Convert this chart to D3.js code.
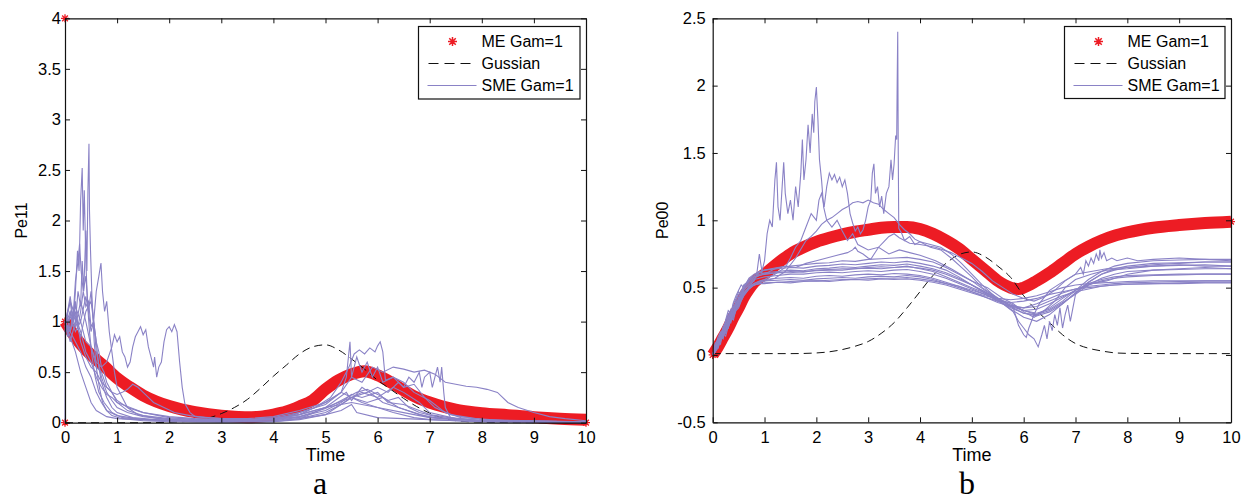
<!DOCTYPE html>
<html><head><meta charset="utf-8">
<script src="https://cdn.jsdelivr.net/npm/d3@7"></script>
<style>
html,body{margin:0;padding:0;background:#fff;}
svg{display:block;}
</style></head><body>
<svg id="chart" width="1242" height="502"></svg>
<script>
// ---------------- DATA ----------------
const xTicks = [0,1,2,3,4,5,6,7,8,9,10];
const yTicksA = [0,0.5,1,1.5,2,2.5,3,3.5,4];
const yTicksB = [-0.5,0,0.5,1,1.5,2,2.5];
const legendLabels = ["ME Gam=1","Gussian","SME Gam=1"];

// Panel a : ME (red band), Gaussian (dashed)
const meA = [[0,1.0],[0.25,0.81],[0.5,0.67],[0.75,0.56],[1.0,0.44],[1.25,0.35],[1.5,0.27],[1.75,0.21],[2.0,0.165],[2.25,0.13],[2.5,0.105],[2.75,0.085],[3.0,0.07],[3.25,0.06],[3.5,0.055],[3.75,0.06],[4.0,0.08],[4.25,0.11],[4.5,0.16],[4.75,0.22],[5.0,0.33],[5.25,0.42],[5.5,0.48],[5.75,0.51],[6.0,0.47],[6.25,0.4],[6.5,0.32],[6.75,0.25],[7.0,0.2],[7.25,0.16],[7.5,0.13],[7.75,0.11],[8.0,0.095],[8.5,0.075],[9.0,0.055],[9.5,0.04],[10,0.03]];
const meExtraA = [[0,4],[0,0],[0,1.0],[10,0]];
const gaussA = [[0,0],[1.5,0],[2.25,0.01],[2.5,0.02],[2.75,0.045],[3,0.09],[3.25,0.15],[3.5,0.23],[3.75,0.34],[4,0.46],[4.25,0.57],[4.5,0.68],[4.75,0.75],[5,0.77],[5.25,0.72],[5.5,0.63],[5.75,0.53],[6,0.42],[6.25,0.33],[6.5,0.24],[6.75,0.16],[7,0.095],[7.25,0.045],[7.5,0.02],[8,0.005],[9,0],[10,0]];

// Panel a : SME sample paths [time, value]
const smeA = [
 [[0,0],[0.005,0.95],[0.05,1.05],[0.1,0.9],[0.15,1.1],[0.2,1.0],[0.25,1.3],[0.3,1.15],[0.33,1.6],[0.36,1.3],[0.4,1.9],[0.42,1.5],[0.44,2.3],[0.46,2.76],[0.47,2.1],[0.49,1.7],[0.52,1.2],[0.56,0.8],[0.6,0.55],[0.66,0.35],[0.72,0.2],[0.8,0.12],[0.9,0.07],[1.1,0.04],[1.5,0.02],[2,0.01],[3,0.005],[4,0.01],[4.5,0.04],[5,0.1],[5.3,0.18],[5.5,0.25],[5.7,0.2],[6,0.15],[6.3,0.1],[6.7,0.05],[7,0.03],[8,0.01],[10,0]],
 [[0,1.0],[0.05,0.85],[0.1,1.1],[0.15,0.95],[0.2,1.3],[0.24,1.7],[0.27,1.5],[0.3,2.2],[0.33,2.52],[0.35,1.9],[0.37,2.3],[0.4,1.6],[0.43,1.2],[0.47,0.9],[0.52,0.65],[0.58,0.45],[0.65,0.3],[0.75,0.2],[0.9,0.1],[1.1,0.05],[1.5,0.03],[2.5,0.01],[4,0.02],[4.6,0.06],[5,0.15],[5.4,0.3],[5.5,0.22],[5.7,0.35],[5.9,0.28],[6.1,0.2],[6.4,0.15],[6.8,0.08],[7.2,0.04],[8,0.02],[10,0.01]],
 [[0,0.9],[0.05,1.1],[0.1,1.2],[0.15,1.0],[0.2,1.4],[0.25,1.6],[0.28,1.77],[0.31,1.5],[0.35,1.3],[0.4,1.45],[0.45,1.1],[0.5,0.9],[0.55,1.0],[0.6,0.7],[0.7,0.45],[0.8,0.3],[0.9,0.22],[1.0,0.15],[1.2,0.1],[1.5,0.06],[2,0.03],[3,0.02],[4,0.03],[4.5,0.08],[5,0.2],[5.3,0.3],[5.4,0.45],[5.47,0.8],[5.5,0.45],[5.6,0.65],[5.7,0.5],[5.8,0.6],[5.9,0.45],[6.0,0.55],[6.1,0.4],[6.3,0.45],[6.5,0.35],[6.7,0.38],[6.9,0.25],[7.1,0.15],[7.4,0.08],[8,0.03],[10,0.01]],
 [[0,1.0],[0.1,0.8],[0.2,1.0],[0.3,0.85],[0.4,1.1],[0.5,1.2],[0.55,1.0],[0.6,1.3],[0.65,1.45],[0.69,1.58],[0.72,1.3],[0.76,1.1],[0.8,1.2],[0.85,0.9],[0.9,0.7],[0.95,0.5],[1.0,0.35],[1.1,0.25],[1.2,0.15],[1.4,0.08],[1.8,0.04],[2.5,0.02],[3.5,0.02],[4.2,0.05],[4.8,0.15],[5.1,0.25],[5.3,0.4],[5.45,0.55],[5.55,0.68],[5.65,0.72],[5.75,0.68],[5.85,0.74],[5.95,0.7],[6.0,0.76],[6.05,0.8],[6.1,0.7],[6.15,0.42],[6.3,0.45],[6.5,0.4],[6.7,0.3],[7,0.22],[7.3,0.1],[7.6,0.05],[8.5,0.02],[10,0.01]],
 [[0,0.95],[0.1,1.05],[0.2,0.9],[0.3,1.0],[0.4,0.8],[0.5,0.75],[0.6,0.6],[0.7,0.55],[0.8,0.6],[0.9,0.75],[0.95,0.87],[1.0,0.8],[1.05,0.85],[1.1,0.7],[1.15,0.65],[1.2,0.55],[1.25,0.6],[1.3,0.75],[1.35,0.85],[1.4,0.9],[1.45,0.95],[1.5,0.87],[1.55,0.92],[1.6,0.75],[1.65,0.65],[1.7,0.55],[1.72,0.65],[1.76,0.45],[1.8,0.55],[1.85,0.6],[1.9,0.8],[1.95,0.92],[2.0,0.95],[2.05,0.9],[2.1,0.97],[2.15,0.9],[2.2,0.6],[2.25,0.35],[2.3,0.19],[2.4,0.1],[2.5,0.06],[3,0.04],[3.5,0.03],[4,0.04],[4.5,0.08],[5,0.15],[5.5,0.2],[6,0.15],[6.5,0.1],[7,0.05],[8,0.02],[10,0.01]],
 [[0,1.0],[0.1,0.9],[0.2,1.15],[0.3,1.0],[0.4,1.25],[0.45,1.1],[0.5,1.3],[0.55,1.0],[0.6,0.8],[0.65,0.55],[0.7,0.4],[0.8,0.25],[0.9,0.15],[1.0,0.1],[1.3,0.05],[2,0.02],[3,0.01],[4,0.01],[4.5,0.03],[5,0.08],[5.5,0.25],[5.7,0.3],[6,0.25],[6.3,0.35],[6.5,0.3],[6.8,0.2],[7,0.1],[7.5,0.04],[8,0.02],[10,0]],
 [[0,0.95],[0.1,1.1],[0.2,0.95],[0.3,1.2],[0.4,1.0],[0.5,0.75],[0.6,0.55],[0.7,0.5],[0.8,0.35],[0.9,0.3],[1.0,0.22],[1.2,0.15],[1.5,0.1],[2,0.06],[2.5,0.04],[3,0.03],[3.5,0.03],[4,0.05],[4.5,0.1],[5,0.18],[5.3,0.3],[5.5,0.45],[5.7,0.4],[5.9,0.55],[6.1,0.5],[6.3,0.55],[6.5,0.53],[6.7,0.5],[6.9,0.52],[7.1,0.48],[7.3,0.4],[7.5,0.38],[7.7,0.36],[7.9,0.35],[8.1,0.33],[8.3,0.3],[8.5,0.2],[8.7,0.15],[9,0.1],[9.3,0.06],[9.6,0.04],[10,0.02]],
 [[0,1.0],[0.1,0.9],[0.2,0.8],[0.3,0.7],[0.4,0.55],[0.5,0.45],[0.6,0.3],[0.7,0.2],[0.8,0.12],[1,0.07],[1.5,0.03],[2.5,0.02],[3.5,0.02],[4,0.04],[4.5,0.08],[5,0.15],[5.5,0.25],[5.8,0.3],[6.0,0.35],[6.2,0.3],[6.4,0.4],[6.5,0.35],[6.6,0.45],[6.7,0.4],[6.8,0.5],[6.85,0.35],[6.9,0.45],[7.0,0.5],[7.05,0.35],[7.1,0.45],[7.15,0.55],[7.2,0.4],[7.23,0.55],[7.27,0.3],[7.3,0.15],[7.4,0.05],[8,0.02],[10,0.01]],
 [[0,1.0],[0.1,0.85],[0.2,0.7],[0.3,0.5],[0.4,0.35],[0.5,0.2],[0.6,0.12],[0.8,0.06],[1.0,0.04],[2,0.02],[3,0.01],[4,0.02],[4.5,0.04],[5,0.08],[5.3,0.12],[5.5,0.18],[5.6,0.1],[6,0.05],[7,0.03],[8,0.01],[10,0]],
 [[0,0.95],[0.1,1.2],[0.2,1.05],[0.3,0.9],[0.4,0.7],[0.5,0.6],[0.6,0.45],[0.7,0.35],[0.8,0.28],[0.9,0.25],[1.0,0.2],[1.1,0.18],[1.3,0.14],[1.5,0.1],[1.8,0.07],[2,0.05],[2.5,0.03],[3,0.02],[4,0.03],[4.5,0.06],[5,0.12],[5.3,0.2],[5.5,0.28],[5.7,0.25],[6,0.3],[6.2,0.2],[6.5,0.18],[6.8,0.12],[7,0.08],[7.5,0.04],[8,0.02],[10,0]],
 [[0,1.0],[0.1,0.9],[0.2,1.1],[0.3,0.8],[0.4,0.65],[0.5,0.55],[0.6,0.5],[0.7,0.4],[0.8,0.35],[0.9,0.3],[1.0,0.28],[1.1,0.3],[1.2,0.33],[1.3,0.38],[1.4,0.35],[1.5,0.3],[1.6,0.25],[1.7,0.2],[1.9,0.15],[2.1,0.1],[2.4,0.07],[2.7,0.05],[3,0.04],[3.5,0.04],[4,0.06],[4.5,0.12],[5,0.2],[5.3,0.3],[5.5,0.25],[5.8,0.2],[6.1,0.25],[6.4,0.15],[6.7,0.1],[7,0.05],[8,0.02],[10,0.01]],
 [[0,1.0],[0.05,1.1],[0.1,1.25],[0.15,1.05],[0.2,1.2],[0.25,0.95],[0.3,1.1],[0.35,1.3],[0.4,1.15],[0.45,1.2],[0.5,0.95],[0.55,1.0],[0.6,0.8],[0.65,0.7],[0.7,0.55],[0.75,0.5],[0.8,0.4],[0.9,0.3],[1.0,0.2],[1.2,0.12],[1.5,0.07],[2,0.04],[3,0.03],[4,0.03],[4.5,0.06],[5,0.14],[5.3,0.22],[5.6,0.3],[5.8,0.33],[6.0,0.28],[6.2,0.22],[6.4,0.25],[6.6,0.15],[6.8,0.1],[7.2,0.05],[8,0.02],[10,0.01]]
];

// Panel b : ME (red band), Gaussian (dashed)
const meB = [[0,0.0],[0.1,0.06],[0.2,0.13],[0.3,0.2],[0.4,0.28],[0.5,0.35],[0.6,0.43],[0.7,0.49],[0.8,0.54],[1.0,0.6],[1.25,0.68],[1.5,0.75],[1.75,0.8],[2.0,0.84],[2.25,0.87],[2.5,0.895],[2.75,0.915],[3.0,0.93],[3.25,0.945],[3.5,0.95],[3.75,0.95],[4.0,0.935],[4.25,0.9],[4.5,0.85],[4.75,0.79],[5.0,0.71],[5.25,0.63],[5.5,0.55],[5.75,0.5],[5.9,0.49],[6.0,0.5],[6.25,0.55],[6.5,0.61],[6.75,0.68],[7.0,0.75],[7.25,0.805],[7.5,0.85],[7.75,0.885],[8.0,0.91],[8.5,0.945],[9.0,0.965],[9.5,0.98],[10,0.99]];
const meExtraB = [[0,0],[10,0.99]];
const gaussB = [[0,0.01],[1,0.01],[1.5,0.01],[2,0.015],[2.5,0.04],[2.75,0.065],[3,0.1],[3.25,0.16],[3.5,0.24],[3.75,0.35],[4,0.47],[4.25,0.59],[4.5,0.68],[4.75,0.745],[5,0.765],[5.25,0.73],[5.5,0.66],[5.75,0.575],[6,0.44],[6.25,0.33],[6.5,0.24],[6.75,0.15],[7,0.085],[7.25,0.05],[7.5,0.03],[7.75,0.016],[8,0.012],[9,0.01],[10,0.01]];

// Panel b : SME sample paths on a common time grid
const gridB = [0,0.05,0.1,0.15,0.2,0.25,0.3,0.35,0.4,0.45,0.5,0.55,0.6,0.7,0.8,0.9,1.0,1.25,1.5,1.75,2.0,2.25,2.5,2.75,3.0,3.25,3.5,3.75,4.0,4.25,4.5,4.75,5.0,5.25,5.5,5.75,6.0,6.25,6.5,6.75,7.0,7.25,7.5,7.75,8.0,8.5,9.0,9.5,10];
const smeBGrid = [
 [0,.04,.10,.08,.17,.22,.20,.29,.33,.36,.41,.44,.47,.50,.52,.53,.53,.54,.535,.545,.55,.545,.555,.56,.555,.565,.56,.565,.555,.54,.52,.49,.46,.43,.40,.39,.40,.42,.45,.47,.49,.50,.51,.52,.525,.53,.535,.54,.54],
 [0,.06,.08,.14,.12,.20,.26,.24,.31,.38,.40,.46,.45,.51,.53,.55,.56,.57,.575,.57,.585,.59,.585,.595,.60,.595,.605,.60,.59,.57,.54,.51,.47,.43,.39,.36,.35,.38,.42,.46,.49,.51,.52,.53,.535,.54,.545,.55,.55],
 [0,.03,.11,.15,.19,.18,.27,.32,.30,.37,.43,.42,.49,.53,.56,.57,.58,.59,.60,.60,.61,.615,.61,.62,.625,.62,.63,.635,.62,.60,.57,.53,.49,.45,.40,.36,.33,.34,.38,.43,.48,.52,.55,.57,.58,.59,.595,.60,.60],
 [0,.07,.05,.12,.18,.24,.22,.30,.36,.34,.42,.48,.50,.54,.57,.59,.60,.61,.62,.615,.63,.635,.64,.64,.65,.655,.65,.66,.64,.62,.58,.54,.50,.46,.42,.38,.33,.30,.33,.39,.45,.52,.57,.60,.62,.63,.635,.64,.64],
 [0,.05,.09,.16,.14,.23,.29,.27,.35,.40,.38,.45,.51,.55,.58,.60,.61,.62,.63,.625,.64,.645,.655,.65,.66,.67,.665,.675,.66,.64,.61,.57,.52,.47,.41,.34,.28,.25,.30,.38,.46,.54,.60,.63,.65,.66,.665,.67,.66],
 [0,.08,.12,.10,.21,.25,.31,.29,.38,.42,.47,.45,.50,.56,.59,.61,.63,.64,.65,.645,.66,.665,.675,.67,.68,.69,.685,.695,.68,.66,.63,.58,.52,.46,.40,.35,.31,.29,.32,.38,.46,.54,.60,.64,.66,.68,.685,.69,.69],
 [0,.04,.13,.17,.15,.26,.33,.31,.39,.44,.48,.52,.50,.57,.60,.62,.63,.65,.66,.67,.68,.685,.70,.695,.71,.715,.72,.725,.71,.69,.65,.60,.55,.48,.42,.37,.33,.31,.34,.40,.48,.56,.62,.66,.68,.70,.705,.71,.71],
 [0,.02,.07,.11,.16,.14,.21,.25,.28,.33,.35,.40,.44,.49,.52,.54,.55,.555,.56,.555,.565,.57,.575,.57,.58,.585,.58,.59,.58,.56,.53,.50,.47,.44,.42,.41,.42,.44,.47,.50,.52,.53,.535,.54,.545,.55,.55,.55,.55],
 [0,.05,.06,.13,.18,.16,.24,.28,.26,.34,.39,.43,.46,.50,.52,.53,.535,.54,.545,.55,.55,.555,.56,.56,.565,.57,.57,.575,.565,.55,.53,.51,.48,.45,.41,.37,.35,.36,.40,.44,.47,.49,.51,.52,.525,.53,.53,.535,.535],
 [0,.09,.07,.15,.20,.19,.28,.34,.32,.40,.45,.47,.52,.55,.58,.59,.60,.61,.61,.62,.625,.63,.63,.64,.645,.64,.65,.655,.645,.63,.60,.56,.52,.47,.42,.36,.31,.30,.35,.42,.48,.53,.56,.58,.59,.595,.60,.60,.60]
];
// Panel b : irregular SME paths [time, value]
const smeBWild = [
 [[0,0],[0.1,0.08],[0.2,0.2],[0.3,0.25],[0.4,0.35],[0.5,0.4],[0.6,0.48],[0.7,0.52],[0.8,0.55],[0.85,0.6],[0.9,0.75],[0.95,0.62],[1.0,0.7],[1.05,0.9],[1.1,1.0],[1.15,0.95],[1.2,1.3],[1.23,1.43],[1.26,1.1],[1.3,1.0],[1.34,1.25],[1.37,1.43],[1.4,1.2],[1.45,1.05],[1.5,1.15],[1.55,1.0],[1.6,1.25],[1.65,1.1],[1.7,1.35],[1.73,1.6],[1.76,1.3],[1.8,1.45],[1.84,1.71],[1.88,1.5],[1.92,1.79],[1.95,1.65],[1.97,1.88],[2.0,1.99],[2.03,1.75],[2.06,1.45],[2.1,1.3],[2.14,1.1],[2.2,1.0],[2.3,0.95],[2.4,1.0],[2.5,0.92],[2.6,0.85],[2.7,0.9],[2.8,0.82],[3.0,0.78],[3.2,0.8],[3.4,0.75],[3.6,0.78],[3.8,0.76],[4.0,0.74],[4.3,0.7],[4.6,0.64],[5.0,0.55],[5.3,0.5],[5.6,0.42],[5.8,0.38],[6.0,0.32],[6.2,0.28],[6.4,0.33],[6.6,0.4],[6.8,0.5],[7.0,0.56],[7.3,0.6],[7.6,0.63],[8.0,0.64],[8.5,0.66],[9,0.67],[9.5,0.66],[10,0.66]],
 [[0,0],[0.1,0.05],[0.2,0.15],[0.3,0.22],[0.4,0.3],[0.5,0.38],[0.6,0.45],[0.7,0.5],[0.8,0.53],[1.0,0.56],[1.2,0.6],[1.4,0.65],[1.5,0.72],[1.6,0.8],[1.7,0.85],[1.8,0.95],[1.9,1.05],[2.0,1.0],[2.05,1.15],[2.1,1.2],[2.15,1.1],[2.2,1.25],[2.25,1.35],[2.3,1.3],[2.35,1.34],[2.4,1.28],[2.45,1.32],[2.5,1.25],[2.55,1.3],[2.6,1.2],[2.65,1.05],[2.7,0.98],[2.75,0.92],[2.8,0.95],[2.85,0.9],[2.9,0.93],[2.95,1.0],[3.0,1.1],[3.05,1.15],[3.08,1.35],[3.11,1.42],[3.14,1.2],[3.18,1.25],[3.22,1.1],[3.26,1.18],[3.3,1.05],[3.35,1.2],[3.4,1.25],[3.44,1.45],[3.47,1.3],[3.5,1.42],[3.53,1.63],[3.55,1.6],[3.56,2.05],[3.57,2.4],[3.58,1.5],[3.59,0.94],[3.65,0.9],[3.7,0.85],[3.8,0.88],[3.9,0.82],[4.0,0.84],[4.2,0.8],[4.4,0.78],[4.6,0.72],[4.8,0.65],[5.0,0.58],[5.2,0.5],[5.4,0.45],[5.6,0.4],[5.8,0.35],[5.9,0.22],[6.0,0.15],[6.05,0.13],[6.1,0.2],[6.2,0.3],[6.3,0.38],[6.5,0.48],[6.7,0.53],[7.0,0.6],[7.3,0.62],[7.6,0.64],[8,0.65],[8.5,0.67],[9,0.68],[9.5,0.69],[10,0.69]],
 [[0,0],[0.1,0.1],[0.2,0.14],[0.3,0.23],[0.4,0.3],[0.5,0.37],[0.6,0.44],[0.7,0.49],[0.8,0.52],[1.0,0.55],[1.2,0.57],[1.4,0.62],[1.6,0.72],[1.8,0.85],[1.9,0.88],[2.0,0.92],[2.1,0.97],[2.2,1.0],[2.3,1.02],[2.4,1.05],[2.5,1.08],[2.6,1.1],[2.7,1.13],[2.8,1.14],[2.9,1.13],[3.0,1.15],[3.1,1.13],[3.2,1.12],[3.3,1.08],[3.4,1.05],[3.5,1.02],[3.6,0.97],[3.7,0.93],[3.8,0.9],[3.9,0.86],[4.0,0.84],[4.2,0.82],[4.4,0.8],[4.6,0.75],[4.8,0.68],[5.0,0.6],[5.2,0.52],[5.4,0.45],[5.6,0.38],[5.8,0.32],[5.9,0.25],[6.0,0.2],[6.1,0.15],[6.2,0.12],[6.28,0.06],[6.35,0.15],[6.4,0.22],[6.45,0.12],[6.5,0.25],[6.55,0.18],[6.6,0.3],[6.65,0.22],[6.7,0.35],[6.75,0.2],[6.8,0.3],[6.85,0.37],[6.9,0.25],[6.95,0.35],[7.0,0.45],[7.1,0.5],[7.3,0.53],[7.6,0.55],[8,0.6],[8.5,0.63],[9,0.64],[9.5,0.65],[10,0.64]],
 [[0,0],[0.1,0.07],[0.2,0.16],[0.3,0.2],[0.4,0.32],[0.5,0.36],[0.6,0.46],[0.7,0.5],[0.8,0.56],[0.9,0.62],[1.0,0.6],[1.2,0.64],[1.4,0.66],[1.6,0.65],[1.8,0.68],[2.0,0.7],[2.2,0.72],[2.4,0.74],[2.6,0.76],[2.7,0.78],[2.75,0.8],[2.8,0.77],[2.9,0.75],[3.0,0.72],[3.05,0.71],[3.1,0.74],[3.2,0.8],[3.3,0.84],[3.4,0.88],[3.5,0.9],[3.6,0.87],[3.7,0.85],[3.8,0.83],[4.0,0.82],[4.3,0.8],[4.6,0.76],[4.8,0.72],[5.0,0.68],[5.2,0.62],[5.4,0.55],[5.6,0.5],[5.8,0.45],[6.0,0.42],[6.2,0.4],[6.4,0.43],[6.6,0.48],[6.8,0.55],[7.0,0.6],[7.1,0.65],[7.15,0.6],[7.2,0.7],[7.25,0.66],[7.3,0.72],[7.35,0.68],[7.4,0.75],[7.45,0.7],[7.47,0.78],[7.5,0.72],[7.55,0.76],[7.6,0.7],[7.7,0.72],[7.8,0.7],[8.0,0.72],[8.2,0.7],[8.5,0.71],[9,0.72],[9.5,0.71],[10,0.7]]
];

// ---------------- DRAW ----------------
const RED = "#ed1c24", PURPLE = "#8a82c6", DASH = "#111";
const FONT = "'Liberation Sans', Arial, Helvetica, sans-serif";
const svg = d3.select("#chart");
svg.append("rect").attr("width",1242).attr("height",502).attr("fill","#fff");

function starPath(cx, cy, r) {
  const k = r * 0.72;
  return `M${cx-r},${cy}H${cx+r}M${cx},${cy-r}V${cy+r}M${cx-k},${cy-k}L${cx+k},${cy+k}M${cx-k},${cy+k}L${cx+k},${cy-k}`;
}

function drawPanel(cfg) {
  const x = d3.scaleLinear().domain([0,10]).range(cfg.xr);
  const y = d3.scaleLinear().domain(cfg.yd).range(cfg.yr);
  const g = svg.append("g");
  const line = d3.line().x(d => x(d[0])).y(d => y(d[1]));

  // ME band
  g.append("path").datum(cfg.me)
    .attr("d", d3.line().x(d => x(d[0])).y(d => y(d[1])).curve(d3.curveMonotoneX))
    .attr("fill","none").attr("stroke",RED).attr("stroke-width",12).attr("stroke-linejoin","round");
  g.selectAll(null).data(cfg.meExtra).enter().append("path")
    .attr("d", d => starPath(x(d[0]), y(d[1]), 4))
    .attr("stroke",RED).attr("stroke-width",1.3).attr("fill","none");

  // Gaussian dashed
  g.append("path").datum(cfg.gauss)
    .attr("d", d3.line().x(d => x(d[0])).y(d => y(d[1])).curve(d3.curveMonotoneX))
    .attr("fill","none").attr("stroke",DASH).attr("stroke-width",1).attr("stroke-dasharray","8,5");

  // SME paths
  g.selectAll(null).data(cfg.sme).enter().append("path")
    .attr("d", line).attr("fill","none").attr("stroke",PURPLE).attr("stroke-width",1.1);

  // axes (box with inward ticks)
  const fmt = d => String(d);
  const styleAxis = sel => {
    sel.attr("font-size",16.5).attr("font-family",FONT);
    sel.selectAll("path.domain").attr("stroke","#111").attr("stroke-width",1.2);
    sel.selectAll(".tick line").attr("stroke","#111");
    sel.selectAll("text").attr("fill","#000");
  };
  g.append("g").attr("transform",`translate(0,${cfg.yr[0]})`)
    .call(d3.axisBottom(x).tickValues(xTicks).tickFormat(fmt).tickSizeInner(-5).tickSizeOuter(0).tickPadding(8.5)).call(styleAxis);
  g.append("g").attr("transform",`translate(0,${cfg.yr[1]})`)
    .call(d3.axisTop(x).tickValues(xTicks).tickFormat("").tickSizeInner(-5).tickSizeOuter(0)).call(styleAxis);
  g.append("g").attr("transform",`translate(${cfg.xr[0]},0)`)
    .call(d3.axisLeft(y).tickValues(cfg.yTicks).tickFormat(fmt).tickSizeInner(-5).tickSizeOuter(0).tickPadding(cfg.yPad)).call(styleAxis);
  g.append("g").attr("transform",`translate(${cfg.xr[1]},0)`)
    .call(d3.axisRight(y).tickValues(cfg.yTicks).tickFormat("").tickSizeInner(-5).tickSizeOuter(0)).call(styleAxis);

  // labels
  const cx = (cfg.xr[0] + cfg.xr[1]) / 2;
  g.append("text").attr("x",cx).attr("y",cfg.timeY).attr("text-anchor","middle")
    .attr("font-family",FONT).attr("font-size",18).text("Time");
  g.append("text").attr("transform",`translate(${cfg.ylabX},${(cfg.yr[0]+cfg.yr[1])/2}) rotate(-90)`)
    .attr("text-anchor","middle").attr("font-family",FONT).attr("font-size",16).text(cfg.ylab);
  g.append("text").attr("x",cfg.subX).attr("y",cfg.subY).attr("text-anchor","middle")
    .attr("font-family","'Liberation Serif','Times New Roman',serif").attr("font-size",32).text(cfg.sub);

  // legend
  const L = cfg.legend;
  const lg = g.append("g");
  lg.append("rect").attr("x",L.x).attr("y",L.y).attr("width",L.w).attr("height",L.h)
    .attr("fill","#fff").attr("stroke","#111").attr("stroke-width",1.2);
  const rows = [41.5, 63.5, 85.5];
  lg.append("path").attr("d", starPath(L.x + 34, rows[0], 4.5)).attr("stroke",RED).attr("stroke-width",1.5).attr("fill","none");
  lg.append("line").attr("x1",L.x+10).attr("x2",L.x+58).attr("y1",rows[1]).attr("y2",rows[1])
    .attr("stroke",DASH).attr("stroke-width",1).attr("stroke-dasharray","10,6");
  lg.append("line").attr("x1",L.x+9).attr("x2",L.x+58).attr("y1",rows[2]).attr("y2",rows[2])
    .attr("stroke",PURPLE).attr("stroke-width",1.2);
  lg.selectAll(null).data(legendLabels).enter().append("text")
    .attr("x",L.x+63).attr("y",(d,i) => rows[i] + 5.5)
    .attr("font-family",FONT).attr("font-size",16).attr("fill","#000").text(d => d);
}

drawPanel({
  xr:[65,586], yd:[0,4], yr:[422.7,18.3], yTicks:yTicksA, yPad:4,
  me:meA, meExtra:meExtraA, gauss:gaussA, sme:smeA,
  timeY:461, ylab:"Pe11", ylabX:27, sub:"a", subX:320, subY:494,
  legend:{x:418.5, y:26.5, w:161.5, h:72.5}
});
drawPanel({
  xr:[712.7,1231], yd:[-0.5,2.5], yr:[422.3,18.3], yTicks:yTicksB, yPad:7,
  me:meB, meExtra:meExtraB, gauss:gaussB,
  sme: smeBGrid.map(vals => vals.map((v,i) => [gridB[i], v])).concat(smeBWild),
  timeY:461, ylab:"Pe00", ylabX:668, sub:"b", subX:967, subY:494,
  legend:{x:1064.5, y:26.5, w:160.5, h:72}
});
</script>
</body></html>
